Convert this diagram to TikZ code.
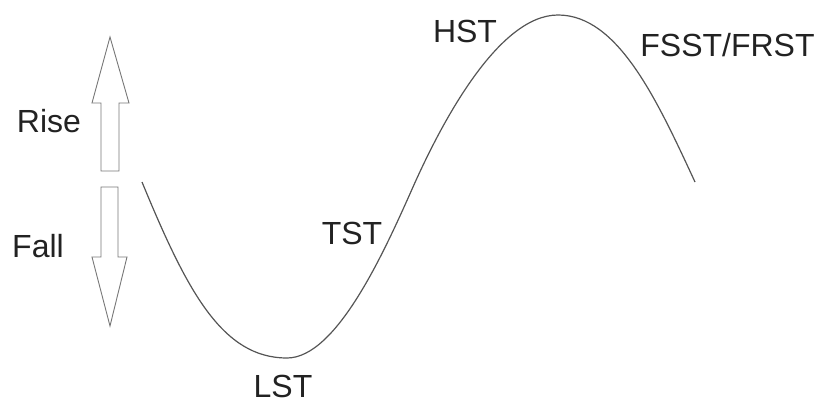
\documentclass[tikz,border=0pt]{standalone}
\usepackage{fontspec}
\setmainfont{Liberation Sans}
\definecolor{txt}{HTML}{222222}
\definecolor{crv}{HTML}{555555}
\definecolor{arr}{HTML}{777777}
\begin{document}
\begin{tikzpicture}[x=1pt,y=-1pt,
  lbl/.style={anchor=base,inner sep=0pt,text=txt,font=\fontsize{32}{36}\selectfont},
  bigarrow/.style={draw=arr,line width=0.9pt,line join=miter,fill=white}]
\useasboundingbox (0,0) rectangle (820,401);
% arrows
\draw[bigarrow] (110,37) -- (129,103) -- (119,103) -- (119,171) -- (101,171) -- (101,103) -- (92,103) -- cycle;
\draw[bigarrow] (101,187) -- (118,187) -- (118,257) -- (127,257) -- (110,326) -- (92,257) -- (101,257) -- cycle;
% curve
\draw[crv,line width=1.2pt]
  (142,182) .. controls (187,291) and (222,358) .. (287,358)
            .. controls (337,358) and (385,250) .. (413,187)
            .. controls (441,124) and (498,15) .. (558,15)
            .. controls (618,15) and (657,100) .. (695,182);
% labels
\node[lbl] (rise) at (49,133) {Rise};
\node[lbl] (fall) at (38,258) {Fall};
\node[lbl] (tst) at (352,244) {TST};
\node[lbl] (lst) at (283,397) {LST};
\node[lbl] (hst) at (465,43) {HST};
\node[lbl] (fsst) at (727.5,57) {FSST/FRST};
\end{tikzpicture}
\end{document}
